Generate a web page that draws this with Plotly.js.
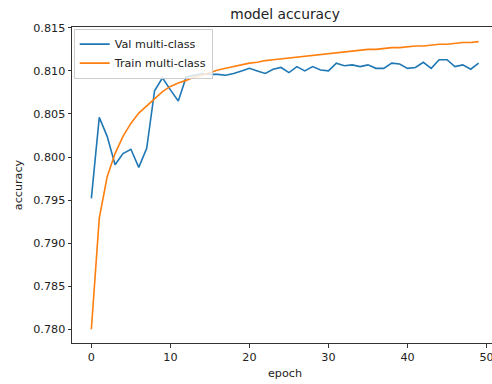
<!DOCTYPE html>
<html>
<head>
<meta charset="utf-8">
<script src="https://cdn.plot.ly/plotly-3.0.1.min.js"></script>
<style>
html,body{margin:0;padding:0;overflow:hidden;background:#fff;}
#chart{width:500px;height:384px;}
</style>
</head>
<body>
<div id="chart"></div>
<script>
const epochs = Array.from({length: 50}, (_, i) => i);
const valAcc = [
  0.7952, 0.8046, 0.8024, 0.7991, 0.8004, 0.8009, 0.7988, 0.8010, 0.8077, 0.8092,
  0.8078, 0.8065, 0.8093, 0.8095, 0.8097, 0.8096, 0.8096, 0.8095, 0.8097, 0.8100,
  0.8103, 0.8100, 0.8097, 0.8102, 0.8104, 0.8098, 0.8105, 0.8100, 0.8105, 0.8101,
  0.8100, 0.8109, 0.8106, 0.8107, 0.8105, 0.8107, 0.8103, 0.8103, 0.8109, 0.8108,
  0.8103, 0.8104, 0.8110, 0.8103, 0.8113, 0.8113, 0.8105, 0.8107, 0.8102, 0.8109
];
const trainAcc = [
  0.7800, 0.7929, 0.7977, 0.8004, 0.8024, 0.8039, 0.8051, 0.8059, 0.8067, 0.8076,
  0.8082, 0.8086, 0.8089, 0.8093, 0.8095, 0.8098, 0.8101, 0.8103, 0.8105, 0.8107,
  0.8109, 0.8110, 0.8112, 0.8113, 0.8114, 0.8115, 0.8116, 0.8117, 0.8118, 0.8119,
  0.8120, 0.8121, 0.8122, 0.8123, 0.8124, 0.8125, 0.8125, 0.8126, 0.8127, 0.8127,
  0.8128, 0.8129, 0.8129, 0.8130, 0.8131, 0.8131, 0.8132, 0.8133, 0.8133, 0.8134
];
const seriesNames = ['Val multi-class', 'Train multi-class'];
const xTicks = [0, 10, 20, 30, 40, 50];
const yTicks = [0.780, 0.785, 0.790, 0.795, 0.800, 0.805, 0.810, 0.815];

const font = 'DejaVu Sans, sans-serif';
const traces = [
  {x: epochs, y: valAcc, name: seriesNames[0], mode: 'lines', line: {color: '#1f77b4', width: 1.6}},
  {x: epochs, y: trainAcc, name: seriesNames[1], mode: 'lines', line: {color: '#ff7f0e', width: 1.6}}
];
const axisCommon = {
  showgrid: false, zeroline: false, showline: true, mirror: true,
  linecolor: '#333', linewidth: 1, ticks: 'outside', ticklen: 3.5, tickwidth: 1, tickcolor: '#333',
  tickfont: {family: font, size: 11.2, color: '#222'}
};
const layout = {
  width: 500, height: 384,
  margin: {l: 72, r: 2, t: 27, b: 41},
  paper_bgcolor: '#fff', plot_bgcolor: '#fff',
  title: {text: 'model accuracy', font: {family: font, size: 13.8, color: '#222'},
          x: 285 / 500, xanchor: 'center', xref: 'container', y: 1 - 14 / 384, yref: 'container', yanchor: 'middle'},
  xaxis: Object.assign({}, axisCommon, {
    range: [-2.45, 51.45], tickvals: xTicks, ticktext: xTicks.map(String),
    title: {text: 'epoch', font: {family: font, size: 11.2, color: '#222'}, standoff: 6}
  }),
  yaxis: Object.assign({}, axisCommon, {
    range: [0.7784, 0.8151], tickvals: yTicks, ticktext: yTicks.map(v => v.toFixed(3)),
    title: {text: 'accuracy', font: {family: font, size: 11.2, color: '#222'}, standoff: 8}
  }),
  legend: {x: 0.004, y: 0.995, xanchor: 'left', yanchor: 'top',
           bgcolor: 'rgba(255,255,255,0.8)', bordercolor: '#cccccc', borderwidth: 1,
           font: {family: font, size: 11.2, color: '#222'}, tracegroupgap: 0, itemwidth: 30},
  showlegend: true
};
Plotly.newPlot('chart', traces, layout, {displayModeBar: false, staticPlot: true});
</script>
</body>
</html>
